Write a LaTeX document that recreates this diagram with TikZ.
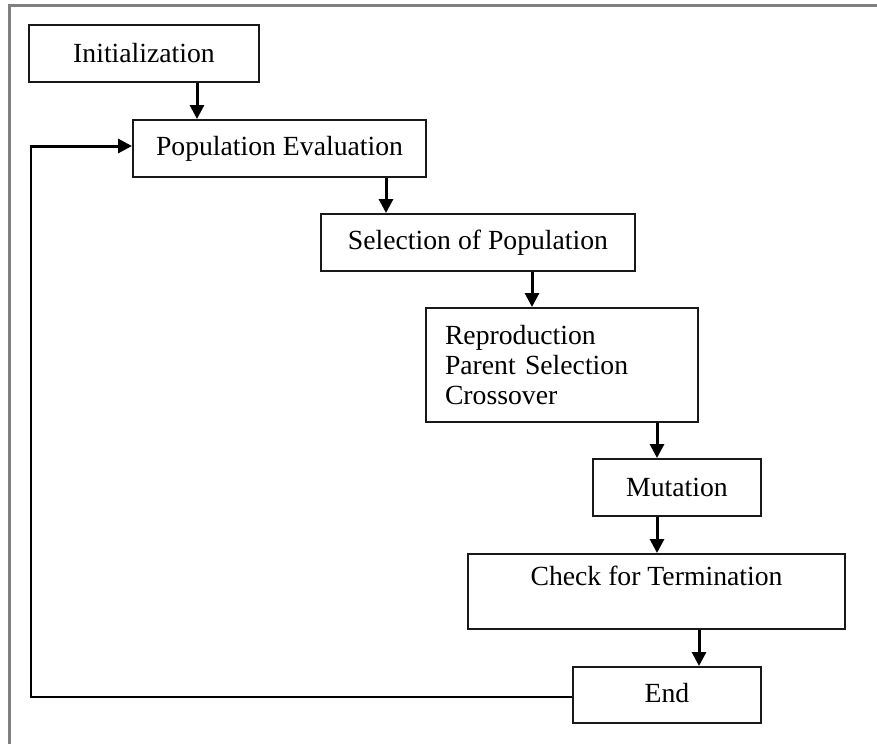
\documentclass[tikz,border=0pt]{standalone}
\usepackage{fontspec}
\setmainfont{Liberation Serif}
\usetikzlibrary{arrows.meta}

\tikzset{
  stepbox/.style={draw=black!90, line width=2pt, rectangle, inner sep=0pt,
                  font=\fontsize{27.7}{30}\selectfont, anchor=center},
  flow/.style={draw=black, line width=3pt, -{Triangle[length=14pt,width=14pt]}},
  loopline/.style={draw=black, line width=2.2pt},
  frameline/.style={draw=black!50, line width=2.2pt}
}

\begin{document}
\begin{tikzpicture}[x=1pt, y=-1pt]
  \useasboundingbox (0,0) rectangle (877,744);

  % open frame: top and left edges only
  \draw[frameline] (877,5.5) -- (9.5,5.5) -- (9.5,744);

  % process steps
  \node[stepbox, minimum width=230, minimum height=57] (init) at (144,53.5) {Initialization};
  \node[stepbox, minimum width=293, minimum height=57] (eval) at (279.5,148.5) {Population Evaluation};
  \node[stepbox, minimum width=314, minimum height=57] (sel) at (478,242.5) {Selection of Population};
  \node[stepbox, minimum width=272, minimum height=114, text width=234, align=left,
        inner xsep=19pt] (rep) at (562,365)
        {Reproduction\\Parent Selection\\Crossover};
  \node[stepbox, minimum width=168, minimum height=57] (mut) at (677,487.5) {Mutation};
  \node[stepbox, minimum width=377, minimum height=75, align=center] (chk) at (656.5,591.5)
        {\rule{0pt}{26pt}Check for Termination\\\strut};
  \node[stepbox, minimum width=188, minimum height=56] (fin) at (667,695)
        {\raisebox{4pt}{End}};

  % forward flow
  \draw[flow] (init.south -| 197,0) -- (eval.north -| 197,0);
  \draw[flow] (eval.south -| 386,0) -- (sel.north -| 386,0);
  \draw[flow] (sel.south -| 532,0) -- (rep.north -| 532,0);
  \draw[flow] (rep.south -| 657,0) -- (mut.north -| 657,0);
  \draw[flow] (mut.south -| 657,0) -- (chk.north -| 657,0);
  \draw[flow] (chk.south -| 699,0) -- (fin.north -| 699,0);

  % loop back from End to Population Evaluation
  \coordinate (turn) at (31,146);
  \draw[loopline] (fin.west |- 0,697) -| (turn);
  \draw[flow] ([xshift=-1.1pt]turn) -- (eval.west |- turn);
\end{tikzpicture}
\end{document}
